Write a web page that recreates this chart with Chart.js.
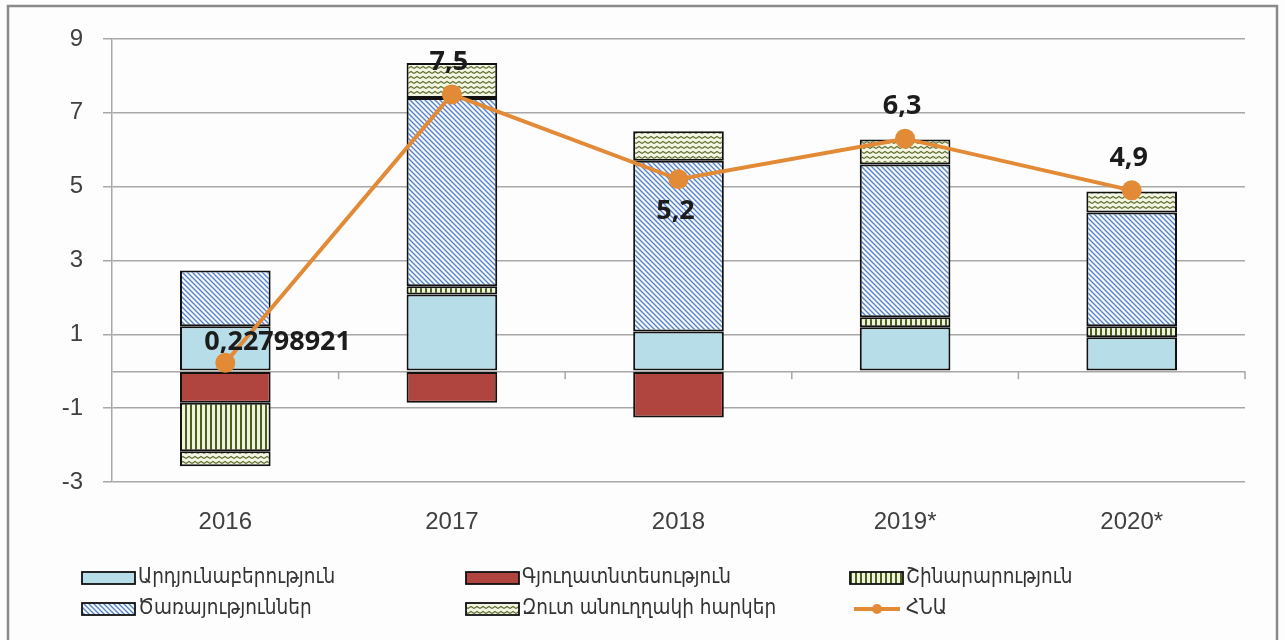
<!DOCTYPE html>
<html>
<head>
<meta charset="UTF-8"/>
<script src="https://cdn.jsdelivr.net/npm/chart.js@4.4.1/dist/chart.umd.min.js"></script>
<style>body{margin:0;background:#fff}</style>
</head>
<body>
<canvas id="chart" width="1285" height="640"></canvas>
<script>
const years = ['2016', '2017', '2018', '2019*', '2020*'];
const industry = [1.22, 2.08, 1.08, 1.19, 0.92];
const agriculture = [-0.85, -0.85, -1.25, 0, 0];
const construction = [-1.32, 0.22, 0, 0.27, 0.30];
const services = [1.51, 5.10, 4.62, 4.14, 3.08];
const taxes = [-0.40, 0.95, 0.80, 0.68, 0.57];
const gdp = [0.22798921, 7.5, 5.2, 6.3, 4.9];
const names = ['Արդյունաբերություն', 'Գյուղատնտեսություն', 'Շինարարություն',
               'Ծառայություններ', 'Զուտ անուղղակի հարկեր', 'ՀՆԱ'];
const yTicks = [-3, -1, 1, 3, 5, 7, 9];
const labelPos = ['right', 'top', 'bottom', 'top', 'top'];

const canvas = document.getElementById('chart');
const ctx = canvas.getContext('2d');
const orange = '#e38a37';
const gridColor = '#a8a8a8';

function makePattern(w, h, bg, draw) {
    const c = document.createElement('canvas');
    c.width = w; c.height = h;
    const g = c.getContext('2d');
    g.fillStyle = bg;
    g.fillRect(0, 0, w, h);
    draw(g);
    return ctx.createPattern(c, 'repeat');
}

// diagonal hatch for services
const hatch = makePattern(5, 5, '#f4f8ff', g => {
    g.strokeStyle = '#5680c8';
    g.lineWidth = 1.3;
    g.beginPath();
    g.moveTo(-1, -1); g.lineTo(6, 6);
    g.moveTo(-1, 4); g.lineTo(1, 6);
    g.moveTo(4, -1); g.lineTo(6, 1);
    g.stroke();
});
// vertical stripes for construction
const stripes = makePattern(5, 5, '#eef4dc', g => {
    g.fillStyle = '#4b5e20';
    g.fillRect(0, 0, 2, 5);
});
// zigzag for taxes
const zigzag = makePattern(6, 5, '#f3f6e3', g => {
    g.strokeStyle = '#5f6e32';
    g.lineWidth = 1.1;
    g.beginPath();
    g.moveTo(0, 3.5); g.lineTo(3, 1.5); g.lineTo(6, 3.5);
    g.stroke();
});

const fills = ['#b7dde8', '#b0443f', stripes, hatch, zigzag];

const frame = {
    id: 'frame',
    beforeDraw(chart) {
        const c = chart.ctx;
        c.save();
        c.fillStyle = '#fdfdfd';
        c.fillRect(0, 0, chart.width, chart.height);
        c.strokeStyle = '#8a8a8a';
        c.lineWidth = 2.5;
        c.strokeRect(8, 6, chart.width - 16, chart.height + 10);
        c.restore();
    }
};

const zeroTicks = {
    id: 'zeroTicks',
    beforeDatasetsDraw(chart) {
        const xs = chart.scales.x, ys = chart.scales.y, c = chart.ctx;
        const y0 = ys.getPixelForValue(0);
        c.save();
        c.strokeStyle = gridColor;
        c.lineWidth = 1.5;
        c.beginPath();
        for (let k = 1; k <= years.length; k++) {
            const x = xs.left + k * xs.width / years.length;
            c.moveTo(x, y0);
            c.lineTo(x, y0 + 8);
        }
        c.stroke();
        c.restore();
    }
};

const gdpLabels = {
    id: 'gdpLabels',
    afterDatasetsDraw(chart) {
        const meta = chart.getDatasetMeta(5), c = chart.ctx;
        c.save();
        c.font = 'bold 27px "Open Sans"';
        c.fillStyle = '#1c1c1c';
        c.textBaseline = 'middle';
        meta.data.forEach((p, i) => {
            const t = String(gdp[i]).replace('.', ',');
            if (labelPos[i] === 'right') {
                c.textAlign = 'left';
                c.fillText(t, p.x - 21, p.y - 21);
            } else {
                c.textAlign = 'center';
                c.fillText(t, p.x - 3, p.y + (labelPos[i] === 'top' ? -32 : 32));
            }
        });
        c.restore();
    }
};

// legend in a fixed 3-column grid
const gridLegend = {
    id: 'gridLegend',
    afterDraw(chart) {
        const c = chart.ctx;
        const cols = [82, 466, 850], rows = [578, 609];
        c.save();
        c.font = '20.5px "DejaVu Sans Condensed", "DejaVu Sans"';
        c.textBaseline = 'middle';
        names.forEach((n, i) => {
            const x = cols[i % 3], y = rows[Math.floor(i / 3)];
            if (i < 5) {
                c.fillStyle = fills[i];
                c.fillRect(x, y - 6, 53, 12);
                c.strokeStyle = '#111';
                c.lineWidth = 1.8;
                c.strokeRect(x, y - 6, 53, 12);
            } else {
                c.strokeStyle = orange;
                c.lineWidth = 4;
                c.beginPath();
                c.moveTo(x + 4, y); c.lineTo(x + 50, y);
                c.stroke();
                c.fillStyle = orange;
                c.beginPath();
                c.arc(x + 27, y, 5, 0, Math.PI * 2);
                c.fill();
            }
            c.fillStyle = '#333';
            c.textAlign = 'left';
            c.fillText(n, x + 56, y);
        });
        c.restore();
    }
};

const barSets = [industry, agriculture, construction, services, taxes].map((d, i) => ({
    type: 'bar',
    label: names[i],
    data: d,
    backgroundColor: fills[i],
    borderColor: '#111',
    borderWidth: 2,
    borderSkipped: false,
    barPercentage: 0.4,
    categoryPercentage: 1.0,
    stack: 'parts',
    order: 1
}));

new Chart(ctx, {
    data: {
        labels: years,
        datasets: barSets.concat([{
            type: 'line',
            label: names[5],
            data: gdp,
            borderColor: orange,
            backgroundColor: orange,
            borderWidth: 4,
            pointRadius: 10,
            pointBorderWidth: 0,
            pointBackgroundColor: orange,
            tension: 0,
            stack: 'gdp',
            order: 0
        }])
    },
    options: {
        responsive: false,
        animation: false,
        layout: { padding: { left: 0, top: 39, right: 40, bottom: 0 } },
        plugins: { legend: { display: false }, tooltip: { enabled: false } },
        scales: {
            x: {
                stacked: true,
                grid: { display: false, drawTicks: false },
                border: { display: false },
                ticks: { color: '#404040', font: { family: 'Liberation Sans', size: 24 }, padding: 26 },
                afterFit: s => { s.height = 158; }
            },
            y: {
                stacked: true,
                min: -3,
                max: 9,
                afterBuildTicks: s => {
                    s.ticks = yTicks.concat([0]).sort((a, b) => a - b).map(v => ({ value: v }));
                },
                afterFit: s => { s.width = 112; },
                grid: {
                    color: gridColor,
                    lineWidth: 1.5,
                    tickLength: 9,
                    tickColor: c => (c.tick && c.tick.value === 0 ? 'rgba(0,0,0,0)' : gridColor)
                },
                border: { display: true, color: gridColor, width: 1.5 },
                ticks: {
                    color: '#404040',
                    font: { family: 'Liberation Sans', size: 24 },
                    padding: 20,
                    callback: v => (v === 0 ? '' : String(v))
                }
            }
        }
    },
    plugins: [frame, zeroTicks, gdpLabels, gridLegend]
});
</script>
</body>
</html>
